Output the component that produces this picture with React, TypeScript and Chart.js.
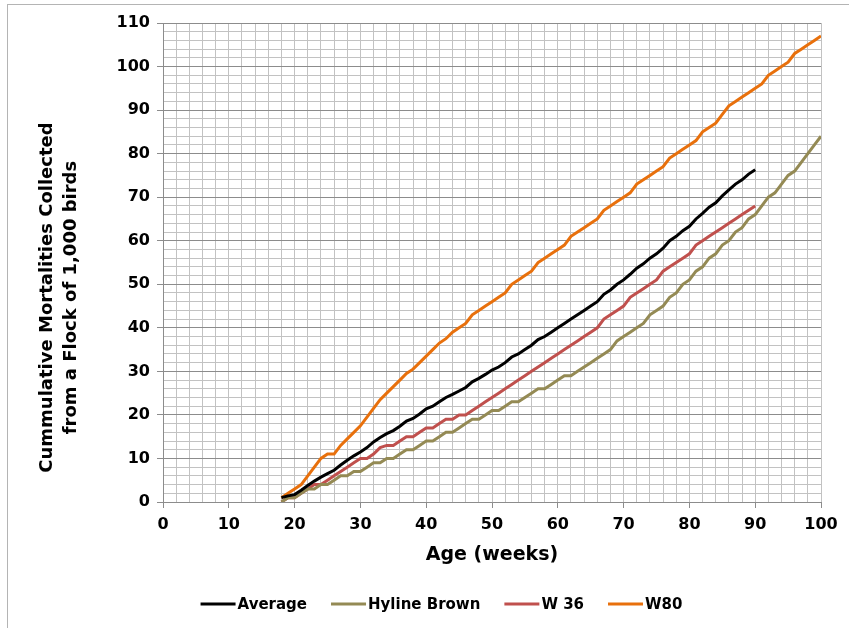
import React, { useEffect, useRef } from "react";
import { Chart, registerables } from "chart.js";

Chart.register(...registerables);

const FONT = "'DejaVu Sans', 'Liberation Sans', Arial, sans-serif";

const weeksShort: number[] = Array.from({ length: 73 }, (_, i) => 18 + i); // 18..90
const weeksLong: number[] = Array.from({ length: 83 }, (_, i) => 18 + i); // 18..100

const averageValues: number[] = [
  1.0, 1.4, 1.7, 2.7, 3.8, 4.8, 5.7, 6.5, 7.3, 8.5, 9.6, 10.6, 11.5, 12.5, 13.8, 14.8, 15.7, 16.4, 17.4, 18.6,
  19.2, 20.2, 21.4, 22.0, 23.0, 24.0, 24.7, 25.5, 26.3, 27.6, 28.4, 29.3, 30.3, 31.0, 32.0, 33.3, 34.0, 35.0,
  36.0, 37.3, 38.0, 39.0, 40.0, 41.0, 42.0, 43.0, 44.0, 45.0, 46.0, 47.7, 48.7, 50.0, 51.0, 52.3, 53.7, 54.7,
  56.0, 57.0, 58.3, 60.0, 61.0, 62.3, 63.3, 65.0, 66.3, 67.7, 68.7, 70.3, 71.7, 73.0, 74.0, 75.3, 76.3,
];

const hylineBrownValues: number[] = [
  0, 1, 1, 2, 3, 3, 4, 4, 5, 6, 6, 7, 7, 8, 9, 9, 10, 10, 11, 12, 12, 13, 14, 14, 15, 16, 16, 17, 18, 19, 19,
  20, 21, 21, 22, 23, 23, 24, 25, 26, 26, 27, 28, 29, 29, 30, 31, 32, 33, 34, 35, 37, 38, 39, 40, 41, 43, 44,
  45, 47, 48, 50, 51, 53, 54, 56, 57, 59, 60, 62, 63, 65, 66, 68, 70, 71, 73, 75, 76, 78, 80, 82, 84,
];

const w36Values: number[] = [
  0, 1, 1, 2, 3, 4, 4, 5, 6, 7, 8, 9, 10, 10, 11, 12.5, 13, 13, 14, 15, 15, 16, 17, 17, 18, 19, 19, 20, 20,
  21, 22, 23, 24, 25, 26, 27, 28, 29, 30, 31, 32, 33, 34, 35, 36, 37, 38, 39, 40, 42, 43, 44, 45, 47, 48, 49,
  50, 51, 53, 54, 55, 56, 57, 59, 60, 61, 62, 63, 64, 65, 66, 67, 68,
];

const w80Values: number[] = [
  1, 2, 3, 4, 6, 8, 10, 11, 11, 13, 14.5, 16, 17.5, 19.5, 21.5, 23.5, 25, 26.5, 28, 29.5, 30.5, 32, 33.5, 35,
  36.5, 37.5, 39, 40, 41, 43, 44, 45, 46, 47, 48, 50, 51, 52, 53, 55, 56, 57, 58, 59, 61, 62, 63, 64, 65, 67,
  68, 69, 70, 71, 73, 74, 75, 76, 77, 79, 80, 81, 82, 83, 85, 86, 87, 89, 91, 92, 93, 94, 95, 96, 98, 99, 100,
  101, 103, 104, 105, 106, 107,
];

const seriesNames: string[] = ["Average", "Hyline Brown", "W 36", "W80"];
const seriesColors: string[] = ["#000000", "#948A54", "#C0504D", "#E8700C"];

const Y_TITLE: string[] = ["Cummulative Mortalities Collected", "from a Flock of 1,000 birds"];
const X_TITLE = "Age (weeks)";

const toPoints = (xs: number[], ys: number[]) => ys.map((y, i) => ({ x: xs[i], y }));

const legendPlugin = {
  id: "bottomLegend",
  afterDraw(chart: any) {
    const ctx = chart.ctx as CanvasRenderingContext2D;
    ctx.save();
    ctx.font = `bold 15px ${FONT}`;
    const items = chart.data.datasets.map((d: any) => ({ label: d.label, color: d.borderColor }));
    const lineLen = 35;
    const gap = 2;
    const spacing = 24;
    const widths = items.map((it: any) => lineLen + gap + ctx.measureText(it.label).width);
    const total = widths.reduce((a: number, b: number) => a + b, 0) + spacing * (items.length - 1);
    let x = 441.5 - total / 2;
    const y = 604;
    items.forEach((it: any, i: number) => {
      ctx.strokeStyle = it.color;
      ctx.lineWidth = 3;
      ctx.beginPath();
      ctx.moveTo(x, y);
      ctx.lineTo(x + lineLen, y);
      ctx.stroke();
      ctx.fillStyle = "#000";
      ctx.textBaseline = "middle";
      ctx.textAlign = "left";
      ctx.fillText(it.label, x + lineLen + gap, y + 1);
      x += widths[i] + spacing;
    });
    ctx.restore();
  },
};

export default function App() {
  const canvasRef = useRef<HTMLCanvasElement | null>(null);

  useEffect(() => {
    if (!canvasRef.current) return;
    const tickFont = { family: FONT, size: 16, weight: "bold" as const };
    const chart = new Chart(canvasRef.current, {
      type: "line",
      data: {
        datasets: [
          { label: seriesNames[0], data: toPoints(weeksShort, averageValues), borderColor: seriesColors[0] },
          { label: seriesNames[1], data: toPoints(weeksLong, hylineBrownValues), borderColor: seriesColors[1] },
          { label: seriesNames[2], data: toPoints(weeksShort, w36Values), borderColor: seriesColors[2] },
          { label: seriesNames[3], data: toPoints(weeksLong, w80Values), borderColor: seriesColors[3] },
        ].map((d) => ({
          ...d,
          backgroundColor: d.borderColor,
          borderWidth: 3,
          pointRadius: 0,
          tension: 0,
          fill: false,
        })),
      },
      options: {
        responsive: false,
        animation: false,
        layout: { padding: { left: 0, right: 28, top: 23, bottom: 56 } },
        plugins: {
          legend: { display: false },
          tooltip: { enabled: false },
          title: {
            display: true,
            position: "left",
            text: Y_TITLE,
            color: "#000",
            font: { family: FONT, size: 18, weight: "bold", lineHeight: "24px" } as any,
            padding: { top: 35, bottom: 10 } as any,
          },
        },
        scales: {
          x: {
            type: "linear",
            min: 0,
            max: 100,
            afterFit: (s: any) => {
              s.height = 70;
            },
            ticks: {
              stepSize: 2,
              autoSkip: false,
              maxRotation: 0,
              color: "#000",
              font: tickFont,
              padding: 7,
              callback: (v: any) => (Number(v) % 10 === 0 ? String(v) : ""),
            },
            grid: {
              color: "#c2c2c2",
              lineWidth: 1,
              tickLength: 6,
              tickColor: (c: any) => (c.tick && c.tick.value % 10 === 0 ? "#8c8c8c" : "rgba(0,0,0,0)"),
            },
            border: { color: "#8c8c8c", width: 1 },
            title: {
              display: true,
              text: X_TITLE,
              color: "#000",
              font: { family: FONT, size: 19, weight: "bold" },
              padding: { top: 0, bottom: 6 },
            },
          },
          y: {
            type: "linear",
            min: 0,
            max: 110,
            afterFit: (s: any) => {
              s.width = 70;
            },
            ticks: {
              stepSize: 2,
              autoSkip: false,
              color: "#000",
              font: tickFont,
              padding: 7,
              callback: (v: any) => (Number(v) % 10 === 0 ? String(v) : ""),
            },
            grid: {
              color: (c: any) => (c.tick && c.tick.value % 10 === 0 ? "#8c8c8c" : "#c2c2c2"),
              lineWidth: 1,
              tickLength: 6,
              tickColor: (c: any) => (c.tick && c.tick.value % 10 === 0 ? "#8c8c8c" : "rgba(0,0,0,0)"),
            },
            border: { color: "#8c8c8c", width: 1 },
          },
        },
      },
      plugins: [legendPlugin],
    });
    return () => chart.destroy();
  }, []);

  return (
    <div style={{ position: "fixed", left: 0, top: 0, width: 849, height: 628, background: "#fff", overflow: "hidden" }}>
      <div
        style={{
          position: "absolute",
          left: 7,
          top: 4,
          width: 850,
          height: 640,
          border: "1px solid #b4b4b4",
          boxSizing: "border-box",
          pointerEvents: "none",
        }}
      />
      <canvas ref={canvasRef} width={849} height={628} style={{ position: "absolute", left: 0, top: 0 }} />
    </div>
  );
}
